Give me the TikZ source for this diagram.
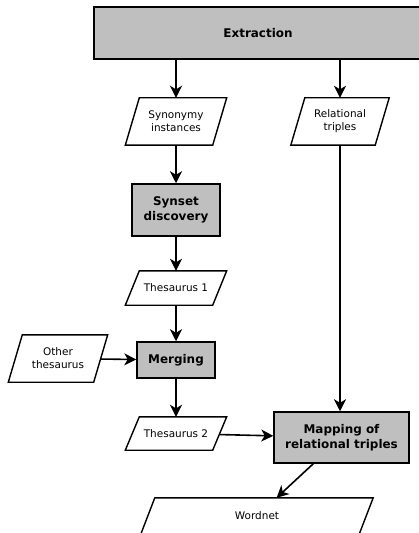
\documentclass[tikz,border=0pt]{standalone}
\usepackage{fontspec}
\setmainfont{DejaVu Sans}
\usetikzlibrary{arrows.meta}

\tikzset{
  procbox/.style={draw, line width=1.5bp, fill=gray!50, align=center, inner sep=0pt,
    font=\fontsize{12}{15}\selectfont\bfseries},
  iobox/.style={align=center, inner sep=0pt, font=\fontsize{10.5}{13}\selectfont},
  ioedge/.style={draw, line width=1.4bp},
  flow/.style={line width=1.6bp, -{Stealth[length=12bp, width=12bp, inset=3.5bp]}}
}

\begin{document}
\begin{tikzpicture}[x=1bp, y=-1bp]
\useasboundingbox (0,0) rectangle (418,533);

% process steps
\node[procbox, minimum width=328bp, minimum height=52bp] (ext) at (258,33) {Extraction};
\node[procbox, minimum width=88bp, minimum height=52bp] (syd) at (176,210) {Synset\\discovery};
\node[procbox, minimum width=78bp, minimum height=36bp] (mrg) at (176,360) {Merging};
\node[procbox, minimum width=135bp, minimum height=51bp] (map) at (341.5,437.5) {Mapping of\\relational triples};

% data
\node[iobox, minimum width=87bp, minimum height=47bp] (syn) at (176,121.5) {Synonymy\\instances};
\node[iobox, minimum width=84bp, minimum height=47bp] (rel) at (340,121.5) {Relational\\triples};
\node[iobox, minimum width=87bp, minimum height=34bp] (th1) at (176,288) {Thesaurus 1};
\node[iobox, minimum width=85bp, minimum height=47bp] (oth) at (58,358.5) {Other\\thesaurus};
\node[iobox, minimum width=87bp, minimum height=33bp] (th2) at (176,433.5) {Thesaurus 2};
\node[iobox, minimum width=218bp, minimum height=36bp] (wn) at (257,516) {Wordnet};

\foreach \n in {syn,rel,th1,oth,th2,wn}
  \draw[ioedge] ([xshift=7bp]\n.north west) -- ([xshift=7bp]\n.north east)
    -- ([xshift=-7bp]\n.south east) -- ([xshift=-7bp]\n.south west) -- cycle;

% flow
\draw[flow] (ext.south -| syn.north) -- (syn.north);
\draw[flow] (ext.south -| rel.north) -- (rel.north);
\draw[flow] (syn) -- (syd);
\draw[flow] (syd) -- (th1);
\draw[flow] (th1) -- (mrg);
\draw[flow] (oth) -- (mrg);
\draw[flow] (mrg) -- (th2);
\draw[flow] (rel.south) -- (rel.south |- map.north);
\draw[flow] (th2) -- (map);
\draw[flow] (map) -- (wn);

\end{tikzpicture}
\end{document}
